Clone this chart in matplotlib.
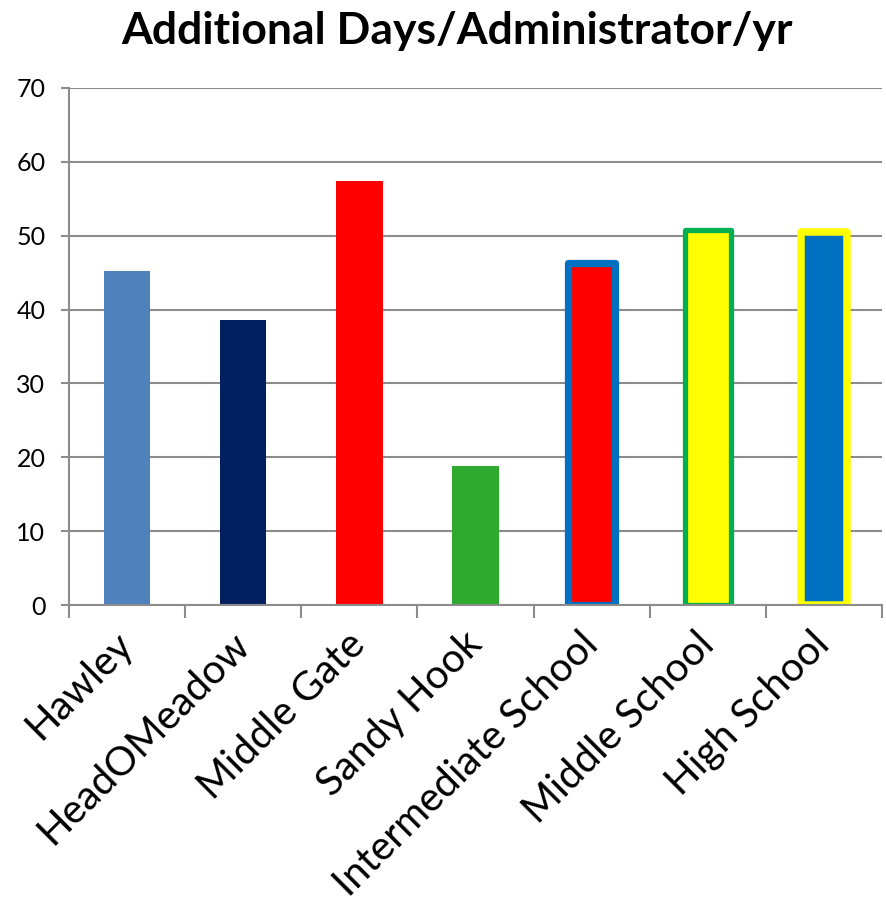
import matplotlib.pyplot as plt

schools = ["Hawley", "HeadOMeadow", "Middle Gate", "Sandy Hook",
           "Intermediate School", "Middle School", "High School"]
days = [45.2, 38.6, 57.4, 18.8, 46.3, 50.8, 50.5]
fill_colors = ["#4F81BD", "#002060", "#FF0000", "#2EAA2E",
               "#FF0000", "#FFFF00", "#0070C0"]
edge_colors = [None, None, None, None, "#0070C0", "#00B050", "#FFFF00"]
edge_widths = [0, 0, 0, 0, 5.2, 3.8, 5.4]
y_ticks = [0, 10, 20, 30, 40, 50, 60, 70]

plt.rcParams['font.family'] = ['Lato', 'DejaVu Sans']

fig = plt.figure(figsize=(8.87, 9.09), dpi=100)
ax = fig.add_axes([0.0778, 0.3344, 0.9166, 0.5688])

x = list(range(len(schools)))
for i in x:
    ax.bar(i, days[i], width=0.40, color=fill_colors[i],
           edgecolor=edge_colors[i] if edge_colors[i] else fill_colors[i],
           linewidth=edge_widths[i], joinstyle='round', zorder=2)

ax.set_xlim(-0.5, len(schools) - 0.5)
ax.set_ylim(0, 70)
ax.set_yticks(y_ticks)
ax.yaxis.grid(True, color="#8C8C8C", linewidth=1.5, zorder=1)
ax.set_axisbelow(True)

# tick marks sit between categories, labels at the bar centres
ax.set_xticks([i + 0.5 for i in range(-1, len(schools))], minor=False)
ax.set_xticklabels([])
ax.set_xticks(x, minor=True)
ax.set_xticklabels(schools, minor=True, rotation=45, ha='right',
                   va='center', rotation_mode='anchor', fontsize=29)
ax.tick_params(axis='x', which='minor', length=0, pad=24)
ax.tick_params(axis='x', which='major', length=9, width=1.5, color="#8C8C8C")
ax.tick_params(axis='y', length=6, width=1.5, color="#8C8C8C",
               labelsize=18, pad=11)

for side in ['top', 'right']:
    ax.spines[side].set_visible(False)
for side in ['left', 'bottom']:
    ax.spines[side].set_color("#8C8C8C")
    ax.spines[side].set_linewidth(1.5)
    ax.spines[side].set_zorder(3)

fig.text(0.515, 0.966, "Additional Days/Administrator/yr", ha='center',
         va='center', fontsize=32, fontweight='bold')

fig.savefig("out.png", dpi=100)
